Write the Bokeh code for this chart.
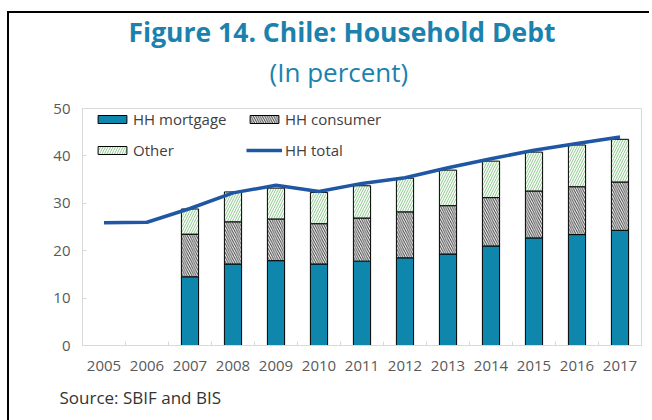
import numpy as np
from bokeh.plotting import figure
from bokeh.models import Range1d, FixedTicker, Legend, LegendItem, ColumnDataSource, Title
from bokeh.embed import file_html
from bokeh.resources import INLINE

# ---------------- data ----------------
years = ["2005", "2006", "2007", "2008", "2009", "2010", "2011",
         "2012", "2013", "2014", "2015", "2016", "2017"]
hh_total = [25.9, 26.0, 28.9, 32.2, 33.8, 32.5, 34.2, 35.4, 37.5, 39.4, 41.2, 42.6, 44.0]

bar_years = ["2007", "2008", "2009", "2010", "2011", "2012",
             "2013", "2014", "2015", "2016", "2017"]
hh_mortgage = [14.5, 17.2, 17.9, 17.2, 17.8, 18.5, 19.3, 21.0, 22.7, 23.4, 24.3]
hh_consumer = [9.0, 8.9, 8.8, 8.5, 9.1, 9.7, 10.2, 10.2, 9.9, 10.1, 10.2]
other = [5.3, 6.3, 6.5, 6.6, 6.8, 7.1, 7.5, 7.7, 8.2, 8.8, 9.0]

y_ticks = [0, 10, 20, 30, 40, 50]

title_text = "Figure 14. Chile: Household Debt"
subtitle_text = "(In percent)"
source_text = "Source: SBIF and BIS"

# ---------------- styles ----------------
FONT = "Open Sans"
TEAL = "#1a82ad"
MORT = "#0f87ad"
LINE = "#1f57a5"
GRAY = "#595959"
LIGHT = "#d9d9d9"

x_line = [years.index(y) + 0.5 for y in years]
x_bar = [years.index(y) + 0.5 for y in bar_years]
m = np.array(hh_mortgage)
c = np.array(hh_consumer)
o = np.array(other)
src = ColumnDataSource(dict(x=x_bar, b0=np.zeros_like(m), m1=m, c1=m + c, o1=m + c + o))

p = figure(frame_width=559, frame_height=237,
           x_range=Range1d(0, len(years)), y_range=Range1d(0, 50),
           output_backend="svg", toolbar_location=None, title=None,
           min_border_left=73, min_border_right=8, min_border_top=95, min_border_bottom=73)
p.styles = {"border-top": "2px solid black", "border-left": "2px solid black",
            "margin-top": "11px", "margin-left": "7px"}
p.background_fill_color = "white"
p.border_fill_color = "white"
p.outline_line_color = LIGHT
p.xgrid.visible = False
p.ygrid.visible = False

# bars
bw = 0.4
r_m = p.vbar(x="x", bottom="b0", top="m1", width=bw, source=src,
             fill_color=MORT, line_color="black", line_width=1)
r_c = p.vbar(x="x", bottom="m1", top="c1", width=bw, source=src,
             fill_color="white", line_color="black", line_width=1,
             hatch_pattern="\\", hatch_color="#404040", hatch_scale=4.5, hatch_weight=1)
r_o = p.vbar(x="x", bottom="c1", top="o1", width=bw, source=src,
             fill_color="white", line_color="black", line_width=1,
             hatch_pattern="/", hatch_color="#8cc98c", hatch_scale=5, hatch_weight=1)
r_l = p.line(x_line, hh_total, line_color=LINE, line_width=3.5)

# axes
xa = p.xaxis[0]
xa.ticker = FixedTicker(ticks=x_line, minor_ticks=list(range(len(years) + 1)))
xa.major_label_overrides = {x: y for x, y in zip(x_line, years)}
xa.major_tick_line_color = None
xa.major_tick_out = 0
xa.major_tick_in = 0
xa.minor_tick_in = 4
xa.minor_tick_out = 0
xa.minor_tick_line_color = LIGHT
xa.axis_line_color = LIGHT
xa.major_label_standoff = 15
xa.major_label_text_font = FONT
xa.major_label_text_font_size = "15px"
xa.major_label_text_color = GRAY

ya = p.yaxis[0]
ya.ticker = FixedTicker(ticks=y_ticks)
ya.major_tick_out = 0
ya.major_tick_in = 4
ya.major_tick_line_color = LIGHT
ya.minor_tick_line_color = None
ya.axis_line_color = LIGHT
ya.major_label_standoff = 12
ya.major_label_text_font = FONT
ya.major_label_text_font_size = "15px"
ya.major_label_text_color = GRAY

# legend
legend = Legend(items=[
    LegendItem(label="HH mortgage", renderers=[r_m]),
    LegendItem(label="HH consumer", renderers=[r_c]),
    LegendItem(label="Other", renderers=[r_o]),
    LegendItem(label="HH total", renderers=[r_l]),
], orientation="horizontal", ncols=2, location=(12, 185),
    glyph_width=36, glyph_height=10, label_standoff=3, label_width=102,
    label_height=20, spacing=11, padding=0, margin=0,
    border_line_alpha=0, background_fill_alpha=0,
    label_text_font=FONT, label_text_font_size="15px", label_text_color="#404040")
p.add_layout(legend)

# texts: subtitle nearest the frame, then title
p.add_layout(Title(text=subtitle_text, align="left", offset=187, standoff=38,
                   vertical_align="bottom", text_font=FONT, text_font_style="normal",
                   text_font_size="26px", text_color=TEAL), "above")
p.add_layout(Title(text=title_text, align="left", offset=46, standoff=-34,
                   vertical_align="bottom", text_font=FONT, text_font_style="bold",
                   text_font_size="26.5px", text_color=TEAL), "above")
p.add_layout(Title(text=source_text, align="left", offset=-23, standoff=25,
                   vertical_align="top", text_font=FONT, text_font_style="normal",
                   text_font_size="17px", text_color="#333333"), "below")

open("out.html", "w").write(file_html(p, INLINE))
